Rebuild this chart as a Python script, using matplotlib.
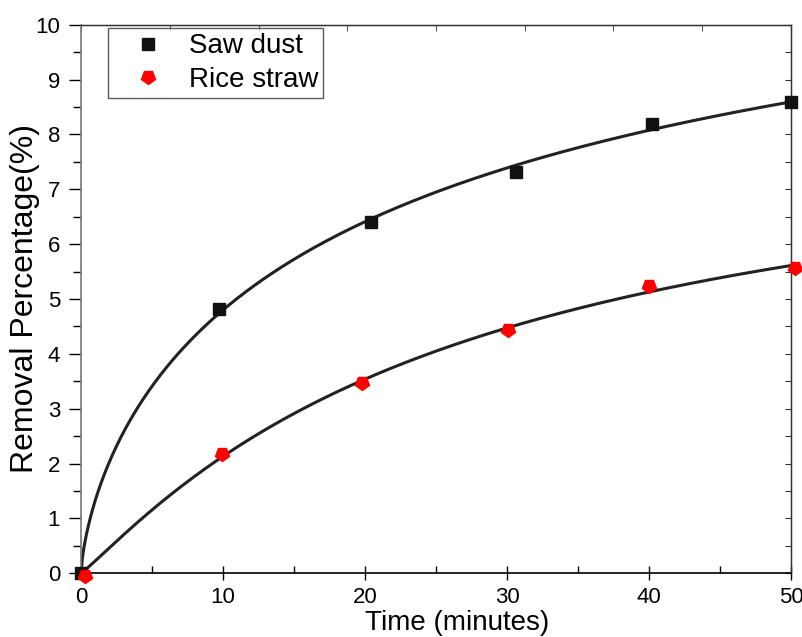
import numpy as np
import matplotlib
matplotlib.use("Agg")
import matplotlib.pyplot as plt
from matplotlib.markers import MarkerStyle
from matplotlib.transforms import Affine2D

plt.rcParams['font.family'] = ['Liberation Sans', 'DejaVu Sans']

# Data
time_saw = [0.0, 9.7, 20.4, 30.6, 40.2, 50.0]
saw_dust = [0.0, 4.82, 6.40, 7.31, 8.19, 8.60]
time_rice = [0.3, 9.9, 19.8, 30.1, 40.0, 50.3]
rice_straw = [-0.05, 2.17, 3.47, 4.43, 5.24, 5.57]

series_labels = ["Saw dust", "Rice straw"]
x_ticks = [0, 10, 20, 30, 40, 50]
y_ticks = [0, 1, 2, 3, 4, 5, 6, 7, 8, 9, 10]


def fit_hill(t, y):
    """Least-squares fit of y = a*t^n/(b+t^n) via grid search on (n, b)."""
    t = np.asarray(t, float)
    y = np.asarray(y, float)
    tt = np.clip(t, 0, None)
    best = None
    for n in np.linspace(0.7, 1.6, 91):
        tn = tt ** n
        for b in np.logspace(-1, 3, 400):
            g = tn / (b + tn)
            a = np.dot(g, y) / np.dot(g, g)
            err = np.sum((a * g - y) ** 2)
            if best is None or err < best[0]:
                best = (err, a, b, n)
    _, a, b, n = best
    return lambda x: a * x ** n / (b + x ** n)


f_saw = fit_hill(time_saw, saw_dust)
f_rice = fit_hill(time_rice, rice_straw)
tc = np.linspace(0, 50, 500)

fig = plt.figure(figsize=(8.02, 6.37), dpi=100)
ax = fig.add_axes([81 / 802, 1 - 573.3 / 637, 710 / 802, 548.6 / 637])

ax.plot(tc, f_saw(tc), color='#222222', lw=2.2, zorder=2)
ax.plot(tc, f_rice(tc), color='#222222', lw=2.2, zorder=2)

pent = MarkerStyle('p', transform=Affine2D().rotate_deg(180))
ax.plot(time_saw, saw_dust, ls='none', marker='s', ms=9, color='#111111',
        label=series_labels[0], zorder=3, clip_on=False)
ax.plot(time_rice, rice_straw, ls='none', marker=pent, ms=10.5, color='#ff0000',
        label=series_labels[1], zorder=3, clip_on=False)

ax.set_xlim(0, 50)
ax.set_ylim(0, 10)
ax.set_xticks(x_ticks)
ax.set_xticks([5, 15, 25, 35, 45], minor=True)
ax.set_yticks(y_ticks)
ax.set_yticks(np.arange(0.5, 10, 1.0), minor=True)
ax.tick_params(axis='both', labelsize=16, colors='black')
ax.tick_params(axis='y', which='major', direction='out', length=9, width=1, pad=6)
ax.tick_params(axis='y', which='minor', direction='out', length=6, width=1)
ax.tick_params(axis='x', which='major', direction='inout', length=10, width=1)
ax.tick_params(axis='x', which='minor', direction='in', length=5, width=1)
ax.tick_params(axis='x', pad=5)

for s in ['top', 'right']:
    ax.spines[s].set_color('#333333')
    ax.spines[s].set_linewidth(1.0)
ax.spines['left'].set_color('#777777')
ax.spines['left'].set_linewidth(1.2)
ax.spines['bottom'].set_color('black')
ax.spines['bottom'].set_linewidth(1.2)

# secondary ticks on top and right (no labels)
axt = ax.secondary_xaxis('top')
axt.set_xticks(np.linspace(0, 50, 9))
axt.tick_params(direction='in', length=4, labeltop=False, colors='#555555')
axr = ax.secondary_yaxis('right')
axr.set_yticks(np.arange(0, 10.01, 0.5))
axr.tick_params(direction='in', length=4, labelright=False, colors='#333333')

ax.set_xlabel('Time (minutes)', fontsize=20)
ax.xaxis.set_label_coords(0.53, -0.067)
ax.set_ylabel('Removal Percentage(%)', fontsize=23)
ax.yaxis.set_label_coords(-0.058, 0.5)

leg = ax.legend(loc='upper left', bbox_to_anchor=(27 / 710, 1 - 3 / 548.6),
                fontsize=20, frameon=True, fancybox=False, borderpad=0.2,
                handletextpad=0.2, labelspacing=0.27, handlelength=2.5,
                borderaxespad=0)
leg.get_frame().set_edgecolor('#333333')
leg.get_frame().set_linewidth(1.0)

fig.savefig('out.png', dpi=100)
